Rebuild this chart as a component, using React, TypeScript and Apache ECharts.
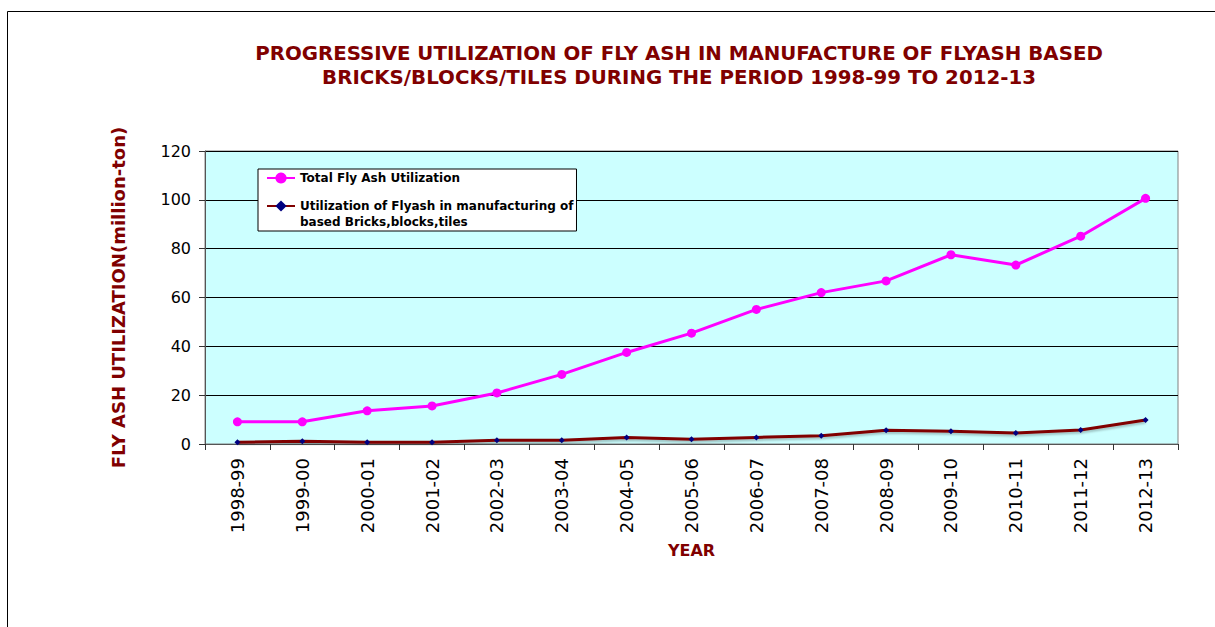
import React, { useEffect, useRef } from 'react';
import * as echarts from 'echarts';

const years = ['1998-99', '1999-00', '2000-01', '2001-02', '2002-03', '2003-04', '2004-05', '2005-06', '2006-07', '2007-08', '2008-09', '2009-10', '2010-11', '2011-12', '2012-13'];
const totalUtil = [9.1, 9.1, 13.6, 15.6, 20.9, 28.5, 37.5, 45.4, 55.1, 62.0, 66.8, 77.5, 73.3, 85.1, 100.6];
const bricksUtil = [0.7, 1.1, 0.7, 0.7, 1.5, 1.5, 2.7, 1.9, 2.7, 3.4, 5.6, 5.2, 4.5, 5.7, 9.8];

const TOTAL = 'Total Fly Ash Utilization';
const BRICKS = 'Utilization of Flyash in manufacturing of based Bricks,blocks,tiles';
const TITLE = 'PROGRESSIVE UTILIZATION OF FLY ASH IN MANUFACTURE OF FLYASH BASED\nBRICKS/BLOCKS/TILES DURING THE PERIOD 1998-99 TO 2012-13';
const FONT = 'DejaVu Sans';
const DARKRED = '#800000';

export default function App() {
  const ref = useRef<HTMLDivElement>(null);
  useEffect(() => {
    if (!ref.current) return;
    const chart = echarts.init(ref.current, undefined, { renderer: 'svg' });
    chart.setOption({
      animation: false,
      backgroundColor: '#ffffff',
      title: {
        text: TITLE,
        left: 674,
        top: 37,
        textAlign: 'center',
        textStyle: { fontFamily: FONT, fontSize: 19.8, fontWeight: 'bold', color: DARKRED, lineHeight: 23.5 },
      },
      graphic: [
        {
          type: 'rect',
          silent: true,
          z: -10,
          shape: { x: 7.5, y: 11.5, width: 1300, height: 700 },
          style: { fill: 'none', stroke: '#000', lineWidth: 1 },
        },
      ],
      legend: {
        orient: 'vertical',
        left: 258,
        top: 169,
        backgroundColor: '#ffffff',
        borderColor: '#000000',
        borderWidth: 1,
        padding: [1, 3, 1, 8],
        itemWidth: 28,
        itemHeight: 14,
        itemGap: -4,
        textStyle: { fontFamily: FONT, fontSize: 12, fontWeight: 'bold', color: '#000', lineHeight: 16 },
        formatter: (name: string) => (name === BRICKS ? ' \nUtilization of Flyash in manufacturing of\nbased Bricks,blocks,tiles' : name),
        data: [{ name: TOTAL }, { name: BRICKS }],
      },
      grid: {
        left: 205,
        right: 37,
        top: 151,
        bottom: 183,
        show: true,
        backgroundColor: '#CCFFFF',
        borderColor: '#808080',
        borderWidth: 1,
      },
      xAxis: {
        type: 'category',
        data: years,
        boundaryGap: true,
        axisLine: { show: true, lineStyle: { color: '#555', width: 1 } },
        axisTick: { show: true, length: 6, lineStyle: { color: '#333' } },
        axisLabel: { rotate: 90, fontFamily: FONT, fontSize: 18, color: '#000', margin: 14, interval: 0 },
        name: 'YEAR',
        nameLocation: 'middle',
        nameGap: 98,
        nameTextStyle: { fontFamily: FONT, fontSize: 16, fontWeight: 'bold', color: DARKRED },
      },
      yAxis: {
        type: 'value',
        min: 0,
        max: 120,
        interval: 20,
        axisLine: { show: true, lineStyle: { color: '#555', width: 1 } },
        axisTick: { show: true, length: 6, lineStyle: { color: '#333' } },
        axisLabel: { fontFamily: FONT, fontSize: 16, color: '#000', margin: 14 },
        splitLine: { show: true, lineStyle: { color: '#000', width: 1 } },
        name: 'FLY ASH UTILIZATION(million-ton)',
        nameLocation: 'middle',
        nameGap: 78,
        nameTextStyle: { fontFamily: FONT, fontSize: 18, fontWeight: 'bold', color: DARKRED },
      },
      series: [
        {
          name: TOTAL,
          type: 'line',
          data: totalUtil,
          symbol: 'circle',
          symbolSize: 9,
          lineStyle: { color: '#FF00FF', width: 3 },
          itemStyle: { color: '#FF00FF' },
        },
        {
          name: BRICKS,
          type: 'line',
          data: bricksUtil,
          symbol: 'diamond',
          symbolSize: 6,
          lineStyle: { color: DARKRED, width: 3, shadowColor: 'rgba(0,0,0,0.25)', shadowBlur: 2, shadowOffsetY: 2 },
          itemStyle: { color: '#000080' },
        },
      ],
    });
    return () => chart.dispose();
  }, []);
  return <div ref={ref} style={{ position: 'fixed', left: 0, top: 0, width: 1215, height: 627 }} />;
}
